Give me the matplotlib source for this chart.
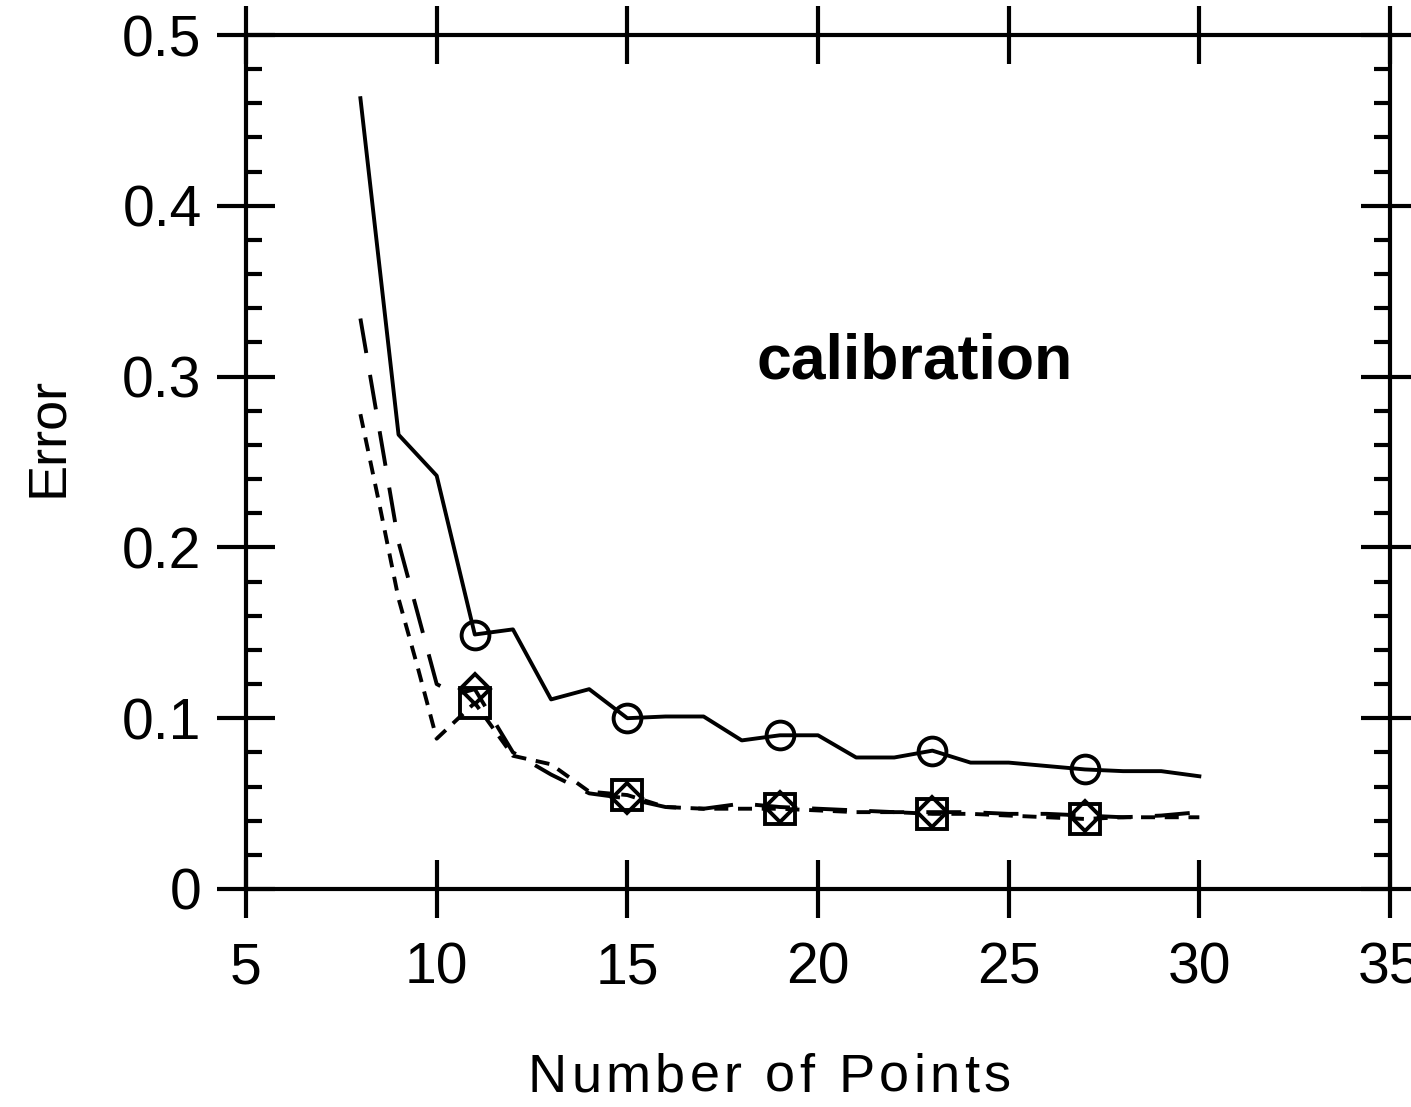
import matplotlib
matplotlib.use('Agg')
import matplotlib.pyplot as plt
from matplotlib.ticker import MultipleLocator, FuncFormatter

plt.rcParams['font.family'] = 'Liberation Sans'

# error vs. number of calibration points
n_solid = [8, 9, 10, 11, 12, 13, 14, 15, 16, 17, 18, 19, 20, 21, 22, 23, 24, 25, 26, 27, 28, 29, 30]
err_solid = [0.463, 0.266, 0.242, 0.149, 0.152, 0.111, 0.117, 0.100, 0.101, 0.101, 0.087, 0.090,
             0.090, 0.077, 0.077, 0.081, 0.074, 0.074, 0.072, 0.070, 0.069, 0.069, 0.066]

n_long = [8, 9, 10, 10.5, 11, 12, 13, 14, 15, 16, 17, 18, 19, 20, 21, 22, 23, 24, 25, 26, 27, 28, 29, 30]
err_long = [0.334, 0.203, 0.120, 0.114, 0.117, 0.080, 0.067, 0.056, 0.053, 0.048, 0.047, 0.050,
            0.048, 0.047, 0.046, 0.045, 0.045, 0.045, 0.044, 0.044, 0.043, 0.042, 0.043, 0.045]

n_short = [8, 8.5, 9, 9.5, 10, 11, 12, 13, 14, 15, 16, 17, 18, 19, 20, 21, 22, 23, 24, 25, 26, 27, 28, 29, 30]
err_short = [0.278, 0.225, 0.170, 0.130, 0.088, 0.109, 0.078, 0.073, 0.057, 0.055, 0.048, 0.047, 0.047,
             0.047, 0.046, 0.045, 0.045, 0.044, 0.044, 0.043, 0.042, 0.041, 0.042, 0.042, 0.042]

marker_at = [11, 15, 19, 23, 27]

W, H = 1411, 1107
fig = plt.figure(figsize=(W / 100, H / 100), dpi=100)
ax = fig.add_axes([0.17435, 0.19693, 0.81077, 0.77145])

lw = 2.8


def every(xs):
    return [i for i, v in enumerate(xs) if v in marker_at]


ax.plot(n_solid, err_solid, color='k', lw=lw, marker='o', ms=20, mew=lw, mfc='none',
        markevery=every(n_solid))
ax.plot(n_long, err_long, color='k', lw=lw, dashes=(9, 5.7), marker='D', ms=15, mew=lw,
        mfc='none', markevery=every(n_long))
ax.plot(n_short, err_short, color='k', lw=lw, dashes=(3.6, 2.5), marker='s', ms=21, mew=lw,
        mfc='none', markevery=every(n_short))

ax.set_xlim(5, 35)
ax.set_ylim(0, 0.5)
ax.xaxis.set_major_locator(MultipleLocator(5))
ax.yaxis.set_major_locator(MultipleLocator(0.1))
ax.yaxis.set_minor_locator(MultipleLocator(0.02))
ax.yaxis.set_major_formatter(FuncFormatter(lambda v, p: '0' if abs(v) < 1e-9 else '%.1f' % v))

for s in ax.spines.values():
    s.set_linewidth(3.0)
ax.tick_params(which='major', direction='inout', length=42, width=3.0, labelsize=41,
               top=True, right=True)
ax.tick_params(axis='x', which='major', pad=17)
ax.tick_params(axis='y', which='major', pad=11)
ax.tick_params(which='minor', direction='in', length=11.5, width=3.0, left=True, right=True)

fig.text(915 / W, 1 - 362 / H, 'calibration', fontsize=45, fontweight='bold',
         ha='center', va='center')

# y label
fig.text(48 / W, 1 - 437 / H, 'Error', rotation=90, fontsize=39, ha='center', va='center')

# x label drawn letter by letter with extra tracking
renderer = fig.canvas.get_renderer()


def text_width(s):
    t = fig.text(0, 0, s + '|', fontsize=39)
    w = t.get_window_extent(renderer).width
    t.remove()
    return w


label = 'Number of Points'
track = 4.3
bar = text_width('')
total = text_width(label) - bar + track * (len(label) - 1)
x0 = 769 - total / 2
for i, ch in enumerate(label):
    if ch == ' ':
        continue
    xoff = text_width(label[:i]) - bar + track * i
    fig.text((x0 + xoff) / W, 1 - 1092 / H, ch, fontsize=39, ha='left', va='baseline')

fig.savefig('out.png', dpi=100)
